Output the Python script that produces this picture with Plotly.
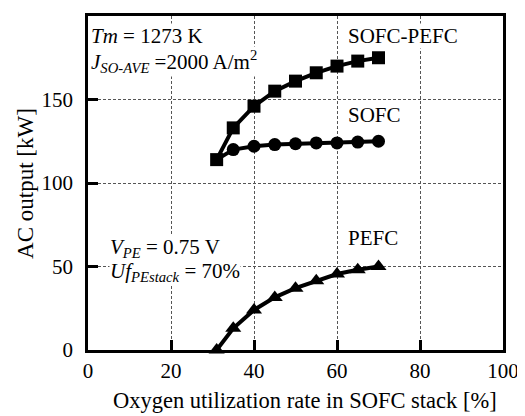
import plotly.graph_objects as go

x_vals = [31, 35, 40, 45, 50, 55, 60, 65, 70]
sofc_pefc = [114, 133, 146, 155, 161, 166, 170, 173, 175]
sofc = [114, 120, 122, 123, 123.5, 124, 124, 124.5, 125]
pefc = [0, 13, 24, 31.5, 37, 41.5, 45.5, 48, 50]

x_ticks = [0, 20, 40, 60, 80, 100]
y_ticks = [0, 50, 100, 150, 200]

FONT = "Liberation Serif, Times New Roman, serif"

fig = go.Figure()
fig.add_trace(go.Scatter(x=x_vals, y=sofc_pefc, mode="lines+markers",
                         line=dict(color="black", width=4),
                         marker=dict(symbol="square", size=13, color="black"),
                         name="SOFC-PEFC", cliponaxis=False))
fig.add_trace(go.Scatter(x=x_vals[:2], y=sofc[:2], mode="lines",
                         line=dict(color="black", width=4),
                         showlegend=False, cliponaxis=False))
fig.add_trace(go.Scatter(x=x_vals[1:], y=sofc[1:], mode="lines+markers",
                         line=dict(color="black", width=4),
                         marker=dict(symbol="circle", size=13, color="black"),
                         name="SOFC", cliponaxis=False))
fig.add_trace(go.Scatter(x=x_vals, y=pefc, mode="lines+markers",
                         line=dict(color="black", width=4),
                         marker=dict(symbol="triangle-up", size=14, color="black"),
                         name="PEFC", cliponaxis=False))

axis_common = dict(
    showline=True, linecolor="black", linewidth=2.5, mirror=True,
    ticks="inside", ticklen=10, tickwidth=2.5, tickcolor="black",
    showgrid=True, gridcolor="#555", griddash="3px,2px", gridwidth=1,
    zeroline=False, tickfont=dict(family=FONT, size=21, color="black"),
    automargin=False, layer="below traces",
)

fig.update_xaxes(range=[0, 100], tickvals=x_ticks, ticklabelstandoff=0, **axis_common)
fig.update_yaxes(range=[0, 200], tickvals=y_ticks, ticklabelstandoff=8, **axis_common)

# axis titles as annotations for exact placement
fig.add_annotation(xref="paper", yref="paper", x=0.523, y=-0.15,
                   xanchor="center", yanchor="middle", showarrow=False,
                   text="Oxygen utilization rate in SOFC stack [%]",
                   font=dict(family=FONT, size=22.5, color="black"))
fig.add_annotation(xref="paper", yref="paper", x=-0.152, y=0.5,
                   xanchor="center", yanchor="middle", showarrow=False, textangle=-90,
                   text="AC output [kW]",
                   font=dict(family=FONT, size=23, color="black"))

ann_font = dict(family=FONT, size=21, color="black")
anns = [
    dict(x=62.5, y=188, text="SOFC-PEFC", xanchor="left"),
    dict(x=62.5, y=140.5, text="SOFC", xanchor="left"),
    dict(x=62.5, y=67, text="PEFC", xanchor="left"),
    dict(x=0.5, y=188, text="<i>Tm</i> = 1273 K", xanchor="left"),
    dict(x=0.5, y=173, text="<i>J<sub>SO-AVE</sub></i> =2000 A/m<sup>2</sup>", xanchor="left"),
    dict(x=5, y=61, text="<i>V<sub>PE</sub></i> = 0.75 V", xanchor="left"),
    dict(x=5, y=47, text="<i>Uf<sub>PEstack</sub></i> = 70%", xanchor="left"),
]
for a in anns:
    fig.add_annotation(xref="x", yref="y", showarrow=False, font=ann_font,
                       bgcolor="white", borderpad=0, **a)

# page body has an 8px default margin; size the figure so the plot area
# lands where the reference has it
fig.update_layout(
    width=517, height=408,
    margin=dict(l=80, r=22, t=8, b=66),
    plot_bgcolor="white", paper_bgcolor="white",
    showlegend=False,
)

fig.write_html("out.html")
